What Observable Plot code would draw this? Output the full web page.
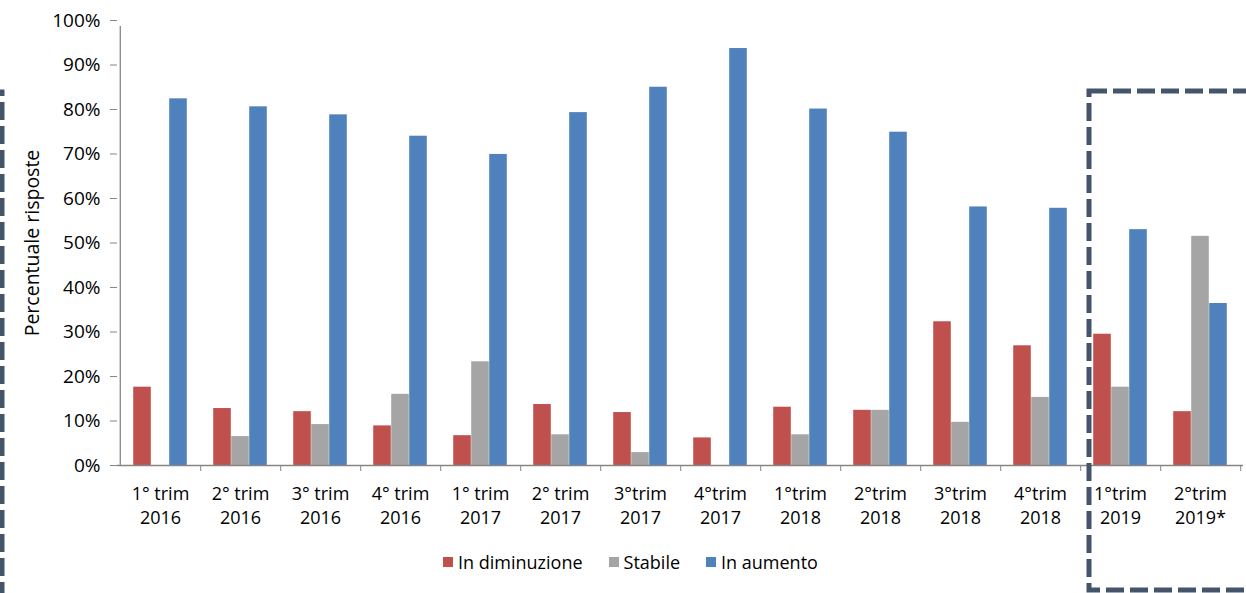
<!DOCTYPE html>
<html><head><meta charset="utf-8">
<script src="https://cdn.jsdelivr.net/npm/d3@7"></script>
<script src="https://cdn.jsdelivr.net/npm/@observablehq/plot@0.6"></script>
<style>
body{margin:0;background:#fff;}
#wrap{position:relative;width:1246px;height:593px;overflow:hidden;font-family:"Open Sans",sans-serif;color:#000}
#legend{position:absolute;left:443px;top:550px;display:flex;align-items:center;font-size:18px;white-space:nowrap}
#legend .it{display:flex;align-items:center;margin-right:26px}
#legend .sw{width:10px;height:10px;margin-right:5px}
#overlay{position:absolute;left:0;top:0;pointer-events:none}
</style></head>
<body><div id="wrap"><div id="chart"></div><div id="legend"></div></div>
<script>
const categories = ["1° trim\n2016","2° trim\n2016","3° trim\n2016","4° trim\n2016","1° trim\n2017","2° trim\n2017","3°trim\n2017","4°trim\n2017","1°trim\n2018","2°trim\n2018","3°trim\n2018","4°trim\n2018","1°trim\n2019","2°trim\n2019*"];
const seriesNames = ["In diminuzione","Stabile","In aumento"];
const diminuzione = [17.6,12.8,12.1,8.9,6.7,13.7,11.9,6.2,13.1,12.4,32.3,26.9,29.5,12.1];
const stabile =     [0,6.5,9.2,16.0,23.3,6.9,2.9,0,6.9,12.4,9.7,15.3,17.6,51.5];
const aumento =     [82.4,80.6,78.8,74.0,69.9,79.3,85.0,93.7,80.1,74.9,58.1,57.8,53.0,36.4];
const yTicks = [0,10,20,30,40,50,60,70,80,90,100];
const colors = ["#C0504D","#A5A5A5","#4F81BD"];

const seriesValues = [diminuzione, stabile, aumento];
const data = [];
seriesNames.forEach((s, si) => categories.forEach((c, ci) => data.push({cat: c, series: s, value: seriesValues[si][ci]})));

const width = 1246, height = 540, mL = 117, mR = 3, mT = 20, mB = 75;
const step = (width - mL - mR) / categories.length;
const barW = 18;
const inset = (step - barW) / 2;
const axisColor = "#868686";

const plot = Plot.plot({
  width, height, marginLeft: mL, marginRight: mR, marginTop: mT, marginBottom: mB,
  style: {fontFamily: "'Open Sans', sans-serif", fontSize: "18px", color: "#000", background: "#fff"},
  x: {domain: categories, padding: 0, axis: null},
  y: {domain: [0, 100], axis: null},
  color: {domain: seriesNames, range: colors},
  marks: [
    ...seriesNames.map((s, si) => Plot.barY(data.filter(d => d.series === s), {
      x: "cat", y: "value", fill: "series", insetLeft: inset, insetRight: inset, dx: (si - 1) * barW
    })),
    Plot.ruleY([0], {stroke: axisColor, strokeWidth: 1.3}),
    Plot.ruleX([categories[0]], {dx: -step / 2, y1: 0, y2: 100, insetBottom: -6, stroke: axisColor, strokeWidth: 1.3}),
    Plot.axisX({tickSize: 6, dx: step / 2, tickFormat: () => "", stroke: axisColor, label: null}),
    Plot.axisX({tickSize: 0, tickPadding: 17, lineHeight: 1.35, fontSize: 18, label: null}),
    Plot.axisY({ticks: yTicks, tickFormat: d => d + "%", tickSize: 7, tickPadding: 10, fontSize: 19, stroke: axisColor,
      label: null}),
    Plot.text(["Percentuale risposte"], {frameAnchor: "left", textAnchor: "middle", dx: -85, rotate: -90, fontSize: 19.5, text: d => d})
  ]
});
document.getElementById("chart").appendChild(plot);

const legend = document.getElementById("legend");
seriesNames.forEach((s, i) => {
  const it = document.createElement("div"); it.className = "it";
  it.innerHTML = `<div class="sw" style="background:${colors[i]}"></div><span>${s}</span>`;
  legend.appendChild(it);
});

// dashed highlight boxes
const ov = d3.select("#wrap").append("svg").attr("id", "overlay").attr("width", 1246).attr("height", 593);
ov.append("rect").attr("x", -300).attr("y", 92).attr("width", 302).attr("height", 600)
  .attr("fill", "none").attr("stroke", "#44546A").attr("stroke-width", 5).attr("stroke-dasharray", "18 6");
ov.append("rect").attr("x", 1089).attr("y", 91).attr("width", 200).attr("height", 499)
  .attr("fill", "none").attr("stroke", "#44546A").attr("stroke-width", 5).attr("stroke-dasharray", "18 6");
</script></body></html>
